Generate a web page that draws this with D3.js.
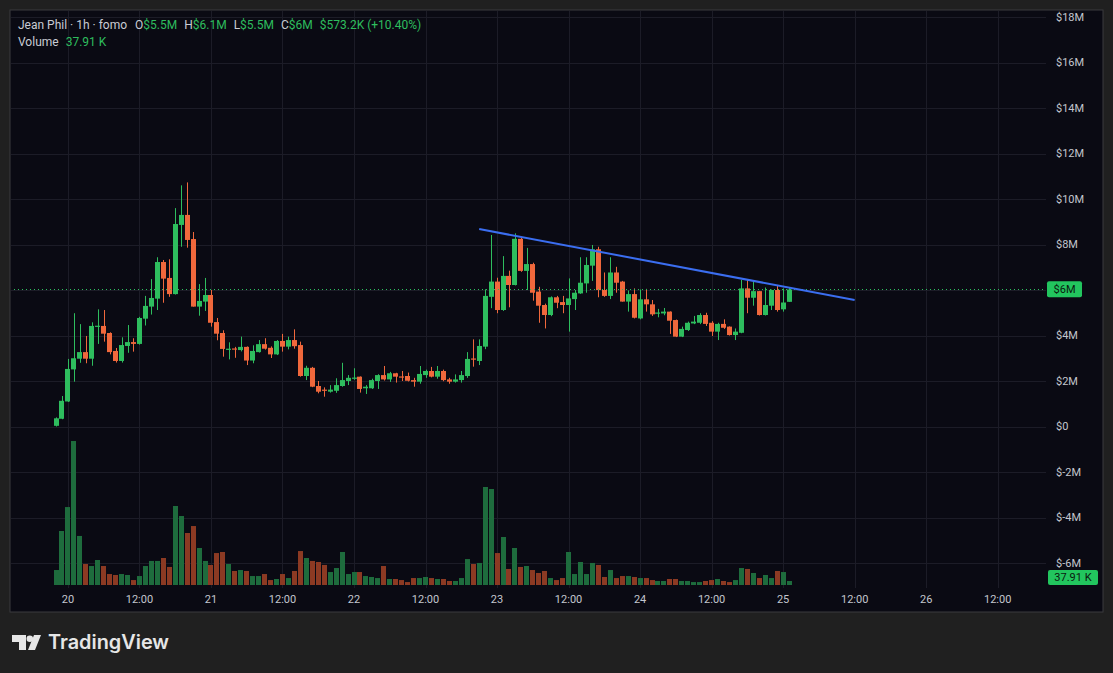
<!DOCTYPE html>
<html><head><meta charset="utf-8">
<script src="https://cdn.jsdelivr.net/npm/d3@7"></script>
<style>
html,body{margin:0;padding:0;background:#202020;overflow:hidden}
svg{display:block}
</style>
</head><body>
<svg id="chart" width="1113" height="673"></svg>
<script>
// ---------- DATA (hourly candles, 19th 22:00 -> 25th 01:00; prices in $M, volume in K) ----------
const opens  = [0.03,0.34,1.10,2.51,2.98,3.27,2.98,4.40,4.42,4.11,3.32,2.88,3.54,3.71,3.63,4.74,5.27,5.62,7.23,6.53,
                5.82,8.86,9.30,8.24,5.27,5.49,5.78,4.59,4.11,3.40,3.43,3.36,3.50,2.90,3.27,3.62,3.46,3.17,3.76,3.51,
                3.80,3.58,2.22,2.58,1.78,1.62,1.53,1.57,1.78,2.00,2.12,2.19,1.68,1.68,2.00,2.26,2.07,2.34,2.20,2.22,
                2.04,1.97,2.26,2.44,2.19,2.44,2.07,1.97,2.04,2.22,2.99,2.88,3.51,5.70,6.37,5.12,6.62,6.22,8.25,6.84,
                7.14,5.93,5.34,4.90,5.68,5.47,5.34,5.60,5.85,6.29,7.07,7.79,6.00,5.74,6.77,6.37,5.49,5.82,4.75,5.59,
                5.37,4.99,4.97,5.05,4.68,3.95,4.24,4.53,4.56,4.90,4.56,4.17,4.51,4.39,4.02,4.12,6.07,5.66,5.95,4.90,
                5.31,6.00,5.15,5.48];
const highs  = [0.40,1.34,2.97,4.98,4.50,3.98,4.58,5.15,5.12,4.14,3.45,3.92,4.46,3.88,4.82,5.74,6.48,7.44,7.32,7.35,
                9.60,10.60,10.73,8.55,6.26,6.53,6.00,4.77,4.23,3.70,3.50,3.95,3.52,3.57,3.80,3.88,3.52,3.80,4.07,3.95,
                4.27,3.73,2.67,2.62,2.00,1.72,1.82,2.12,2.80,2.26,2.56,2.20,1.82,2.10,2.30,2.66,2.40,2.36,2.44,2.37,
                2.14,2.66,2.50,2.62,2.66,2.50,2.14,2.29,2.44,3.27,3.83,3.83,6.03,8.42,6.54,7.49,6.85,8.49,8.30,7.85,
                7.20,6.14,5.40,5.72,5.74,5.74,6.51,6.00,7.44,7.44,7.98,7.90,6.77,7.44,7.02,6.40,5.98,6.07,6.02,6.05,
                5.56,5.17,5.21,5.06,4.70,4.39,4.61,4.86,4.98,5.00,4.63,4.56,4.71,4.40,4.31,6.44,6.44,6.37,5.96,6.11,
                6.02,6.22,6.07,6.10];
const lows   = [0.00,0.32,1.08,1.97,2.80,2.78,2.67,3.63,3.73,3.17,2.81,2.81,3.24,3.29,3.60,4.44,4.92,5.12,5.44,5.70,
                5.80,7.90,7.86,5.27,4.87,5.08,4.39,3.79,3.07,2.95,3.02,3.30,2.70,2.78,3.25,3.38,3.01,3.14,3.29,3.39,
                3.42,2.19,2.04,1.73,1.46,1.31,1.49,1.48,1.75,1.82,2.05,1.49,1.43,1.65,1.65,2.02,1.96,1.93,2.00,1.98,
                1.75,1.88,2.14,2.16,2.10,1.99,1.88,1.93,1.93,2.14,2.63,2.70,3.40,5.20,4.98,5.08,5.24,6.20,6.80,6.00,
                5.53,4.56,4.31,4.85,5.20,4.98,4.17,5.12,5.83,5.88,6.40,5.68,5.70,5.60,5.88,5.49,5.05,4.75,4.71,5.05,
                4.86,4.80,4.89,4.07,3.93,3.93,4.20,4.50,4.50,4.42,3.98,3.80,4.29,4.00,3.80,4.10,4.98,5.31,4.88,4.88,
                5.12,5.05,5.05,5.48];
const closes = [0.36,1.13,2.53,3.00,3.27,2.98,4.42,4.43,4.08,3.27,2.88,3.58,3.71,3.63,4.77,5.30,5.65,7.23,6.50,5.82,
                8.90,9.30,8.20,5.27,5.52,5.78,4.56,4.08,3.41,3.42,3.41,3.50,2.90,3.32,3.62,3.42,3.17,3.76,3.51,3.80,
                3.53,2.22,2.58,1.75,1.53,1.58,1.62,1.82,2.04,2.14,2.15,1.65,1.75,2.04,2.26,2.07,2.34,2.19,2.15,2.01,
                1.97,2.31,2.44,2.19,2.44,2.04,1.97,2.07,2.26,2.97,2.95,3.54,5.74,6.37,5.12,6.62,6.22,8.25,6.84,7.14,
                5.88,5.31,4.90,5.68,5.44,5.34,5.63,5.88,6.32,7.10,7.79,6.00,5.74,6.77,6.32,5.49,5.82,4.78,5.59,5.37,
                4.93,5.01,5.05,4.65,3.95,4.29,4.56,4.61,4.90,4.51,4.17,4.51,4.34,4.02,4.17,6.07,5.66,5.95,4.90,5.34,
                6.00,5.12,5.45,6.02];
const volumes = [142,512,739,1365,465,199,180,237,180,104,95,104,95,47,85,180,228,228,256,171,
                 749,654,493,559,351,228,190,303,313,199,133,142,133,85,85,104,47,57,104,66,
                 133,322,256,228,218,190,123,161,313,104,123,123,85,76,66,180,57,57,47,28,
                 66,66,76,66,57,57,38,38,66,246,199,209,929,910,303,455,152,351,171,180,
                 142,114,133,66,47,66,313,104,218,104,209,190,76,142,66,85,85,76,66,66,
                 47,38,38,57,57,38,38,28,28,38,47,57,38,28,47,161,152,114,66,95,
                 66,133,123,37.91];
const priceTicks = [-6,-4,-2,0,2,4,6,8,10,12,14,16,18];
const timeTickIndex  = [2,14,26,38,50,62,74,86,98,110,122,134,146,158];
const timeTickLabels = ["20","12:00","21","12:00","22","12:00","23","12:00","24","12:00","25","12:00","26","12:00"];
const trendIndex = [71, 134];
const trendPrice = [8.68, 5.56];
const lastPrice = 6.03;
const lastPriceLabel = "$6M";
const lastVolumeLabel = "37.91 K";
const headerTitle = "Jean Phil · 1h · fomo";
const headerOHLC = [["O","$5.5M"],["H","$6.1M"],["L","$5.5M"],["C","$6M"]];
const headerChange = "$573.2K (+10.40%)";
const volumeLabel = ["Volume","37.91 K"];

// ---------- STYLE ----------
const UP = "#2ebd5e", DOWN = "#f0683c", VUP = "#1e6c3d", VDOWN = "#8c3a23";
const PANE_BG = "#0a0a13", OUTER = "#202020", GRID = "#1c1c27", TEXT = "#c3c6ce";
const FONT = "Roboto, 'DejaVu Sans', sans-serif";

const svg = d3.select("#chart");
svg.append("rect").attr("width",1113).attr("height",673).attr("fill",OUTER);

// pane
const pane = {x0:10, y0:10, x1:1103, y1:612, plotRight:1046, plotBottom:588};
svg.append("rect").attr("x",pane.x0).attr("y",pane.y0)
   .attr("width",pane.x1-pane.x0).attr("height",pane.y1-pane.y0)
   .attr("fill",PANE_BG).attr("stroke","#3a3a3e").attr("stroke-width",1);

const x = d3.scaleLinear().domain([0,158]).range([56,997.7]);
const y = d3.scaleLinear().domain([0,18]).range([426.5,17]);
const yv = d3.scaleLinear().domain([0,1400]).range([585,585-1400/9.48]);

svg.append("clipPath").attr("id","plot").append("rect")
  .attr("x",pane.x0+1).attr("y",pane.y0+1)
  .attr("width",pane.plotRight-pane.x0-1).attr("height",pane.plotBottom-pane.y0-1);

const g = svg.append("g").attr("clip-path","url(#plot)");

// grid
g.selectAll("line.hg").data(priceTicks).join("line")
  .attr("x1",pane.x0).attr("x2",pane.plotRight)
  .attr("y1",d=>Math.round(y(d))+0.5).attr("y2",d=>Math.round(y(d))+0.5)
  .attr("stroke",GRID).attr("stroke-width",1);
g.selectAll("line.vg").data(timeTickIndex).join("line")
  .attr("y1",pane.y0).attr("y2",pane.plotBottom)
  .attr("x1",d=>Math.round(x(d))+0.5).attr("x2",d=>Math.round(x(d))+0.5)
  .attr("stroke",GRID).attr("stroke-width",1);

const idx = d3.range(opens.length);
const bw = 5;

// volume
g.selectAll("rect.vol").data(idx).join("rect")
  .attr("x",i=>Math.round(x(i)-bw/2)).attr("width",bw)
  .attr("y",i=>yv(volumes[i])).attr("height",i=>yv(0)-yv(volumes[i]))
  .attr("fill",i=>closes[i]>=opens[i]?VUP:VDOWN);

// wicks
g.selectAll("line.wick").data(idx).join("line")
  .attr("x1",i=>Math.round(x(i))+0.5).attr("x2",i=>Math.round(x(i))+0.5)
  .attr("y1",i=>y(highs[i])).attr("y2",i=>y(lows[i]))
  .attr("stroke",i=>closes[i]>=opens[i]?UP:DOWN).attr("stroke-width",1);
// bodies
g.selectAll("rect.body").data(idx).join("rect")
  .attr("x",i=>Math.round(x(i)-bw/2)).attr("width",bw)
  .attr("y",i=>y(Math.max(opens[i],closes[i])))
  .attr("height",i=>Math.max(1.2, Math.abs(y(opens[i])-y(closes[i]))))
  .attr("fill",i=>closes[i]>=opens[i]?UP:DOWN);

// last price dotted line
g.append("line").attr("x1",pane.x0).attr("x2",pane.plotRight)
  .attr("y1",Math.round(y(lastPrice))+0.5).attr("y2",Math.round(y(lastPrice))+0.5)
  .attr("stroke",UP).attr("stroke-width",1).attr("stroke-dasharray","1,3");

// trend line
g.append("line")
  .attr("x1",x(trendIndex[0])).attr("y1",y(trendPrice[0]))
  .attr("x2",x(trendIndex[1])).attr("y2",y(trendPrice[1]))
  .attr("stroke","#3b6ef0").attr("stroke-width",2);

// price axis labels (the $6M tick is covered by the last-price badge)
svg.selectAll("text.pl").data(priceTicks.filter(d=>Math.abs(y(d)-y(lastPrice))>10)).join("text")
  .attr("x",1056).attr("y",d=>y(d)).attr("dy","0.35em")
  .attr("font-family",FONT).attr("font-size",11).attr("fill",TEXT)
  .text(d=>d===0?"$0":"$"+d+"M");

// last price badge
const lpY = y(lastPrice);
svg.append("rect").attr("x",1047).attr("y",lpY-8).attr("width",35).attr("height",16).attr("rx",2).attr("fill","#22c55e");
svg.append("text").attr("x",1064.5).attr("y",lpY).attr("dy","0.35em").attr("text-anchor","middle")
  .attr("font-family",FONT).attr("font-size",11).attr("fill","#0b1a10").text(lastPriceLabel);
// volume badge
svg.append("rect").attr("x",1048).attr("y",570).attr("width",50).attr("height",15).attr("rx",2).attr("fill","#22c55e");
svg.append("text").attr("x",1073).attr("y",577.5).attr("dy","0.35em").attr("text-anchor","middle")
  .attr("font-family",FONT).attr("font-size",11).attr("fill","#0b1a10").text(lastVolumeLabel);

// time axis labels
svg.selectAll("text.tl").data(timeTickIndex).join("text")
  .attr("x",d=>x(d)).attr("y",599).attr("dy","0.35em").attr("text-anchor","middle")
  .attr("font-family",FONT).attr("font-size",11).attr("fill",TEXT)
  .text((d,i)=>timeTickLabels[i]);

// header (flowing tspans)
const h = svg.append("text").attr("x",18).attr("y",25).attr("dy","0.35em")
  .attr("font-family",FONT).attr("font-size",12);
h.append("tspan").attr("fill","#c9ccd4").text(headerTitle);
headerOHLC.forEach((p,k)=>{
  h.append("tspan").attr("dx",k===0?8:7).attr("fill","#c9ccd4").text(p[0]);
  h.append("tspan").attr("fill",UP).text(p[1]);
});
h.append("tspan").attr("dx",7).attr("fill",UP).text(headerChange);
const v = svg.append("text").attr("x",18).attr("y",42).attr("dy","0.35em").attr("font-family",FONT).attr("font-size",12);
v.append("tspan").attr("fill","#c9ccd4").text(volumeLabel[0]);
v.append("tspan").attr("dx",7).attr("fill",UP).text(volumeLabel[1]);

// TradingView logo
const logo = svg.append("g").attr("fill","#e6e6e6");
logo.append("path").attr("d","M12,635 H26 V650 H19 V642 H12 Z");
logo.append("circle").attr("cx",29.8).attr("cy",638.8).attr("r",3.3);
logo.append("path").attr("d","M34,635 H41 L35,650 H28 Z");
svg.append("text").attr("x",48).attr("y",649).attr("font-family","Inter, Roboto, sans-serif")
  .attr("font-size",19.5).attr("font-weight",600).attr("fill","#e6e6e6")
  .attr("textLength",121).attr("lengthAdjust","spacingAndGlyphs").text("TradingView");
</script>
</body></html>
